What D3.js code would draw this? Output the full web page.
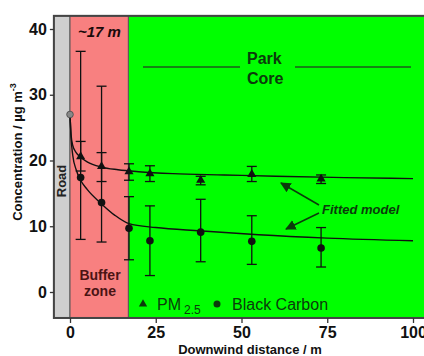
<!DOCTYPE html>
<html>
<head>
<meta charset="utf-8">
<script src="https://cdn.jsdelivr.net/npm/d3@7"></script>
<style>
  body { margin: 0; background: #fff; }
  svg { display: block; font-family: "Liberation Sans", Arial, sans-serif; }
</style>
</head>
<body>
<svg width="424" height="356"></svg>
<script>
// distances (m) of the sampling sites
const distances = [3.1, 9.2, 17.2, 23.3, 38.1, 53.0, 73.2];
// PM2.5 mean, lower and upper error
const pmMean = [20.6, 19.1, 18.3, 18.0, 17.0, 17.9, 17.2];
const pmLow  = [18.4, 16.8, 17.0, 16.8, 16.3, 16.8, 16.5];
const pmHigh = [22.9, 21.2, 19.5, 19.2, 17.6, 19.1, 17.8];
// black carbon mean, lower and upper error
const bcMean = [17.4, 13.6, 9.7, 7.8, 9.1, 7.7, 6.7];
const bcLow  = [8.0, 7.6, 4.9, 2.5, 4.6, 4.2, 3.8];
const bcHigh = [36.6, 31.3, 14.5, 13.1, 14.1, 11.6, 9.8];
// road-side value
const roadPoint = [0, 27];
// fitted model curves [distance, concentration]
const pmFit = [[0, 27], [0.3, 24], [0.8, 22.3], [1.8, 21.2], [3.1, 20.5], [5, 19.8], [9.2, 19.0],
  [14, 18.6], [20, 18.3], [30, 18.0], [45, 17.8], [60, 17.6], [80, 17.4], [100, 17.25]];
const bcFit = [[0, 27], [0.3, 23.5], [0.8, 20.8], [1.8, 18.6], [3.1, 17.0], [5, 15.6], [9.2, 13.4],
  [13, 11.7], [17.2, 10.4], [25, 9.8], [38, 9.3], [55, 8.7], [75, 8.2], [100, 7.8]];
// zones
const roadZone = [-4.7, 0];
const bufferZone = [0, 17];
const parkZone = [17, 104];
const xTicks = [0, 25, 50, 75, 100];
const yTicks = [0, 10, 20, 30, 40];

const svg = d3.select("svg");
const x = d3.scaleLinear().domain([0, 100]).range([70, 413]);
const y = d3.scaleLinear().domain([0, 40]).range([292, 29]);
const yMin = -3.95, yMax = 42;

const g = svg.append("g");

function zone(d, fill) {
  g.append("rect")
    .attr("x", x(d[0])).attr("width", x(d[1]) - x(d[0]))
    .attr("y", y(yMax)).attr("height", y(yMin) - y(yMax))
    .attr("fill", fill).attr("stroke", "#555").attr("stroke-width", 1);
}
zone(parkZone, "#00ff00");
zone(roadZone, "#cfcfcf");
zone(bufferZone, "#f88080");

// frame
g.append("rect")
  .attr("x", x(roadZone[0])).attr("y", y(yMax))
  .attr("width", x(parkZone[1]) - x(roadZone[0])).attr("height", y(yMin) - y(yMax))
  .attr("fill", "none").attr("stroke", "#444").attr("stroke-width", 2);

// axes
const yAxis = g.append("g")
  .attr("transform", "translate(" + x(roadZone[0]) + ",0)")
  .call(d3.axisLeft(y).tickValues(yTicks).tickSize(4).tickPadding(3));
const xAxis = g.append("g")
  .attr("transform", "translate(0," + y(yMin) + ")")
  .call(d3.axisBottom(x).tickValues(xTicks).tickSize(5).tickPadding(4));
[yAxis, xAxis].forEach(a => {
  a.select(".domain").remove();
  a.selectAll("line").attr("stroke", "#333").attr("stroke-width", 1.3);
  a.selectAll("text").attr("font-size", 16).attr("font-weight", "bold").attr("fill", "#111")
    .attr("font-family", "Liberation Sans, Arial, sans-serif");
});

// axis titles
svg.append("text")
  .attr("transform", "translate(22,152) rotate(-90)")
  .attr("text-anchor", "middle").attr("font-size", 13).attr("font-weight", "bold").attr("fill", "#111")
  .html('Concentration / µg m<tspan dy="-6" font-size="9">-3</tspan>');
svg.append("text")
  .attr("x", 250).attr("y", 354)
  .attr("text-anchor", "middle").attr("font-size", 13).attr("font-weight", "bold").attr("fill", "#111")
  .text("Downwind distance / m");

// zone labels
g.append("text").attr("x", 78).attr("y", 37)
  .attr("font-size", 15).attr("font-weight", "bold").attr("font-style", "italic").attr("fill", "#1a0a0a")
  .text("~17 m");
g.append("text").attr("transform", "translate(66,181) rotate(-90)")
  .attr("text-anchor", "middle").attr("font-size", 13).attr("font-weight", "bold").attr("fill", "#222")
  .text("Road");
g.append("text").attr("x", 100).attr("y", 280)
  .attr("text-anchor", "middle").attr("font-size", 14).attr("font-weight", "bold").attr("fill", "#4a1414")
  .text("Buffer");
g.append("text").attr("x", 100).attr("y", 296)
  .attr("text-anchor", "middle").attr("font-size", 14).attr("font-weight", "bold").attr("fill", "#4a1414")
  .text("zone");
g.append("text").attr("x", 247).attr("y", 64)
  .attr("font-size", 16).attr("font-weight", "bold").attr("fill", "#0b3b0b").text("Park");
g.append("text").attr("x", 247).attr("y", 84)
  .attr("font-size", 16).attr("font-weight", "bold").attr("fill", "#0b3b0b").text("Core");
g.append("line").attr("x1", 143).attr("x2", 240).attr("y1", 67).attr("y2", 67)
  .attr("stroke", "#1d5a1d").attr("stroke-width", 1.6);
g.append("line").attr("x1", 295).attr("x2", 411).attr("y1", 67).attr("y2", 67)
  .attr("stroke", "#1d5a1d").attr("stroke-width", 1.6);

// fitted curves
const line = d3.line().x(d => x(d[0])).y(d => y(d[1])).curve(d3.curveMonotoneX);
[pmFit, bcFit].forEach(f => {
  g.append("path").datum(f).attr("d", line)
    .attr("fill", "none").attr("stroke", "#111").attr("stroke-width", 1.4);
});

// error bars
function errorBars(means, lows, highs) {
  const eb = g.append("g").attr("stroke", "#111").attr("stroke-width", 1.3);
  distances.forEach((d, i) => {
    eb.append("line").attr("x1", x(d)).attr("x2", x(d)).attr("y1", y(lows[i])).attr("y2", y(highs[i]));
    [lows[i], highs[i]].forEach(v => {
      eb.append("line").attr("x1", x(d) - 5).attr("x2", x(d) + 5).attr("y1", y(v)).attr("y2", y(v));
    });
  });
}
errorBars(pmMean, pmLow, pmHigh);
errorBars(bcMean, bcLow, bcHigh);

// markers
const tri = d3.symbol().type(d3.symbolTriangle).size(36);
g.append("g").selectAll("path").data(distances).join("path")
  .attr("d", tri)
  .attr("transform", (d, i) => "translate(" + x(d) + "," + y(pmMean[i]) + ")")
  .attr("fill", "#111");
g.append("g").selectAll("circle").data(distances).join("circle")
  .attr("cx", d => x(d)).attr("cy", (d, i) => y(bcMean[i])).attr("r", 3.8)
  .attr("fill", "#111");
g.append("circle").attr("cx", x(roadPoint[0])).attr("cy", y(roadPoint[1])).attr("r", 3.3)
  .attr("fill", "#888").attr("stroke", "#555");

// fitted model label and arrows
svg.append("defs").append("marker")
  .attr("id", "ah").attr("viewBox", "0 0 10 10").attr("refX", 9).attr("refY", 5)
  .attr("markerWidth", 7).attr("markerHeight", 7).attr("orient", "auto")
  .append("path").attr("d", "M0,0L10,5L0,10z").attr("fill", "#0b3b0b");
g.append("text").attr("x", 322).attr("y", 214)
  .attr("font-size", 13).attr("font-weight", "bold").attr("font-style", "italic").attr("fill", "#0b3b0b")
  .text("Fitted model");
g.append("line").attr("x1", 319).attr("y1", 205).attr("x2", 281).attr("y2", 183)
  .attr("stroke", "#0b3b0b").attr("stroke-width", 1.5).attr("marker-end", "url(#ah)");
g.append("line").attr("x1", 319).attr("y1", 213).attr("x2", 286).attr("y2", 229)
  .attr("stroke", "#0b3b0b").attr("stroke-width", 1.5).attr("marker-end", "url(#ah)");

// legend
const lg = g.append("g").attr("fill", "#0b3b0b");
lg.append("path").attr("d", d3.symbol().type(d3.symbolTriangle).size(30))
  .attr("transform", "translate(143,304)");
lg.append("text").attr("x", 157).attr("y", 310).attr("font-size", 16)
  .html('PM<tspan dx="3" dy="4" font-size="12">2.5</tspan>');
lg.append("circle").attr("cx", 217).attr("cy", 304).attr("r", 3.5);
lg.append("text").attr("x", 232).attr("y", 310).attr("font-size", 16).text("Black Carbon");
</script>
</body>
</html>
